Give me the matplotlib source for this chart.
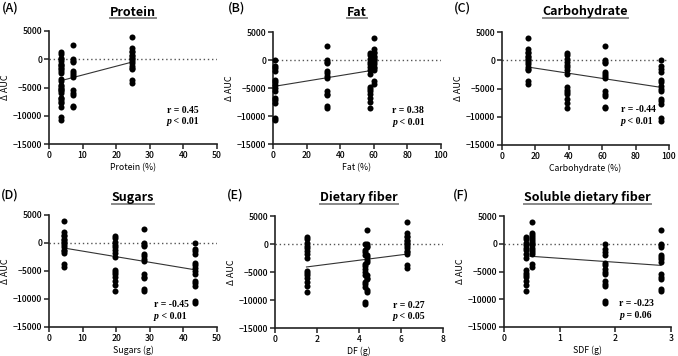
import matplotlib.pyplot as plt
from matplotlib.lines import Line2D

plt.rcParams['font.family'] = ['Noto Sans CJK JP', 'DejaVu Sans']

# delta AUC of the subjects for the four test foods (shared by all panels)
auc_food1 = [4000, 2000, 1500, 1200, 800, 500, 200, 0, -300, -700, -1200, -1500, -1800, -3700, -4200]
auc_food2 = [1300, 900, 200, -300, -800, -1200, -1800, -2500, -4800, -5200, -5600, -6000, -6800, -7500, -8500]
auc_food3 = [2500, 0, -300, -500, -2000, -2400, -2800, -3200, -5500, -6000, -6300, -8200, -8500]
auc_food4 = [0, -1000, -1500, -2000, -3500, -3900, -4500, -5000, -5500, -6800, -7200, -7700, -10300, -10700]

# nutrient content of the four foods (food1, food2, food3, food4)
protein = [24.7, 3.5, 7.0, 3.5]
fat = [60, 57.5, 32, 0.9]
carbohydrate = [15.5, 38.8, 61.4, 95.2]
sugars = [4.5, 19.5, 28.3, 43.6]
dietary_fiber = [6.3, 1.5, 4.4, 4.3]
soluble_fiber = [0.51, 0.40, 2.82, 1.81]

# regression line end points
fit_protein = ([3.5, 24.7], [-3800, -500])
fit_fat = ([0.9, 60], [-4700, -1800])
fit_carb = ([15.5, 95.2], [-1200, -4800])
fit_sugars = ([4.5, 43.6], [-900, -4800])
fit_df = ([1.5, 6.3], [-4100, -1800])
fit_sdf = ([0.40, 2.82], [-2200, -3900])

titles = ['Protein', 'Fat', 'Carbohydrate', 'Sugars', 'Dietary fiber', 'Soluble dietary fiber']
xlabels = ['Protein (%)', 'Fat (%)', 'Carbohydrate (%)', 'Sugars (g)', 'DF (g)', 'SDF (g)']
letters = ['(A)', '(B)', '(C)', '(D)', '(E)', '(F)']
r_texts = ['r = 0.45', 'r = 0.38', 'r = -0.44', 'r = -0.45', 'r = 0.27', 'r = -0.23']
p_texts = [' < 0.01', ' < 0.01', ' < 0.01', ' < 0.01', ' < 0.05', ' = 0.06']
xs = [protein, fat, carbohydrate, sugars, dietary_fiber, soluble_fiber]
fits = [fit_protein, fit_fat, fit_carb, fit_sugars, fit_df, fit_sdf]
xmaxs = [50, 100, 100, 50, 8, 3]
xticks = [[0, 10, 20, 30, 40, 50], [0, 20, 40, 60, 80, 100], [0, 20, 40, 60, 80, 100],
          [0, 10, 20, 30, 40, 50], [0, 2, 4, 6, 8], [0, 1, 2, 3]]
stat_pos = [(35, -9000), (71, -9000), (71, -8700), (31.3, -11000), (5.6, -10900), (2.07, -10800)]

W, H = 678, 356
# axes boxes in pixels: left, right, top, bottom
boxes = [(49, 217, 31, 144), (273, 441, 32, 144), (502, 669, 32, 145),
         (49, 217, 215, 327), (275, 443, 216, 328), (504, 671, 216, 327)]
letter_pos = [(2, 8), (228, 8), (454, 8), (1, 195), (227, 195), (453, 195)]

fig = plt.figure(figsize=(W / 100, H / 100), dpi=100)
groups = [auc_food1, auc_food2, auc_food3, auc_food4]
title_objs = []

for i in range(6):
    l, r, t, b = boxes[i]
    ax = fig.add_axes([l / W, 1 - b / H, (r - l) / W, (b - t) / H])
    for xv, vals in zip(xs[i], groups):
        ax.scatter([xv] * len(vals), vals, s=19, color='black', zorder=3, clip_on=False, linewidths=0)
    ax.plot(fits[i][0], fits[i][1], color='#333333', lw=0.8, zorder=2)
    ax.axhline(0, color='#555555', lw=1.0, ls=(0, (1, 2)), zorder=1)
    ax.set_xlim(0, xmaxs[i])
    ax.set_ylim(-15000, 5000)
    ax.set_xticks(xticks[i])
    ax.set_yticks([-15000, -10000, -5000, 0, 5000])
    for s in ['top', 'right']:
        ax.spines[s].set_visible(False)
    for s in ['left', 'bottom']:
        ax.spines[s].set_linewidth(1.2)
        ax.spines[s].set_color('#222222')
    ax.tick_params(length=3.5, width=1.1, labelsize=6.2, pad=1.5, color='#222222')
    for lab in ax.get_xticklabels() + ax.get_yticklabels():
        lab.set_fontweight('medium')
    ax.set_xlabel(xlabels[i], fontsize=6.3, labelpad=2)
    ax.set_ylabel('Δ AUC', fontsize=6.5, labelpad=2)

    sx, sy = stat_pos[i]
    ax.text(sx, sy, r_texts[i], fontsize=7, family='Liberation Serif', weight='bold', va='center')
    pt = ax.text(sx, sy - 2100, 'p', fontsize=7, family='Liberation Serif', weight='bold',
                 style='italic', va='center')
    ax.annotate(p_texts[i], xy=(1, 0), xycoords=pt, fontsize=7, family='Liberation Serif',
                weight='bold', va='bottom', ha='left')

    ty = 12 if i < 3 else 198
    tt = fig.text((l + r) / 2 / W, 1 - ty / H, titles[i], fontsize=9, weight='bold',
                  ha='center', va='center')
    title_objs.append(tt)
    lx, ly = letter_pos[i]
    fig.text(lx / W, 1 - ly / H, letters[i], fontsize=9, weight='medium', ha='left', va='center')

# underline the panel titles
fig.canvas.draw()
renderer = fig.canvas.get_renderer()
for tt in title_objs:
    bb = tt.get_window_extent(renderer).transformed(fig.transFigure.inverted())
    fig.add_artist(Line2D([bb.x0, bb.x1], [bb.y0 + 0.002, bb.y0 + 0.002], color='#888888',
                          lw=1.4, transform=fig.transFigure))

fig.savefig('out.png', dpi=100)
